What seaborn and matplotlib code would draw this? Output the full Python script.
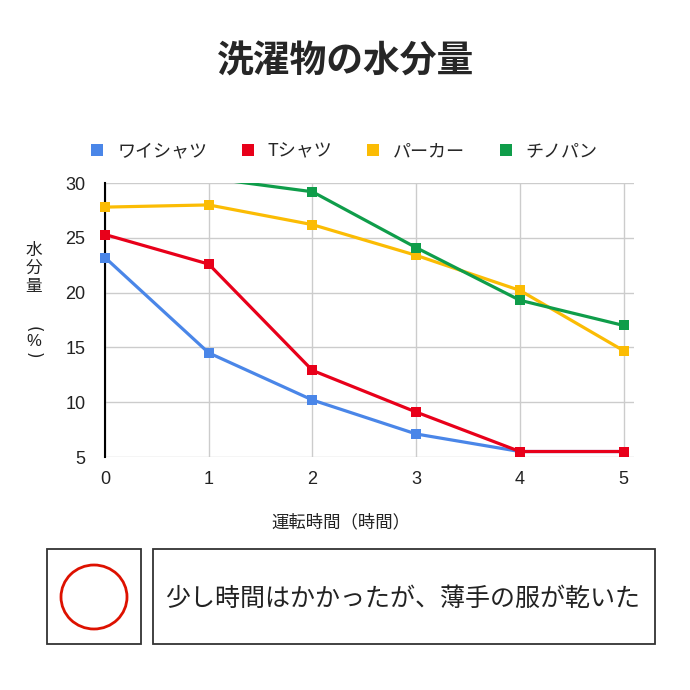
import matplotlib
matplotlib.use("Agg")
import matplotlib.pyplot as plt
from matplotlib.patches import Rectangle, Ellipse
from matplotlib.lines import Line2D
import seaborn as sns
import pandas as pd

# ---- data ----
hours = [0, 1, 2, 3, 4, 5]
series_names = ["ワイシャツ", "Tシャツ", "パーカー", "チノパン"]
y_shirt = [23.2, 14.5, 10.2, 7.1, 5.5, 5.5]
t_shirt = [25.3, 22.6, 12.9, 9.1, 5.5, 5.5]
hoodie = [27.8, 28.0, 26.2, 23.4, 20.2, 14.7]
chinos = [31.0, 30.45, 29.2, 24.1, 19.3, 17.0]
y_ticks = [5, 10, 15, 20, 25, 30]
colors = ["#4A86E8", "#E8001A", "#FBBC04", "#0F9D4A"]

title = "洗濯物の水分量"
x_label = "運転時間（時間）"
y_label_chars = ["水", "分", "量"]
verdict = "少し時間はかかったが、薄手の服が乾いた"

rows = []
for name, vals in zip(series_names, [y_shirt, t_shirt, hoodie, chinos]):
    for h, v in zip(hours, vals):
        rows.append({"時間": h, "水分量": v, "種類": name})
df = pd.DataFrame(rows)

sns.set_style("white")
plt.rcParams["font.family"] = ["Noto Sans CJK JP", "DejaVu Sans"]

W = H = 690
fig = plt.figure(figsize=(6.9, 6.9), dpi=100)

def fx(px):
    return px / W

def fy(py):
    return 1 - py / H

ax = fig.add_axes([fx(105), fy(457), fx(634) - fx(105), fy(183) - fy(457)])
sns.lineplot(data=df, x="時間", y="水分量", hue="種類", hue_order=series_names,
             palette=colors, marker="s", markersize=7, markeredgewidth=0,
             linewidth=2.3, ax=ax, legend=False)

clip_rect = Rectangle((-0.05, -0.05), 1.1, 1.05, transform=ax.transAxes,
                      facecolor="none", edgecolor="none")
ax.add_patch(clip_rect)
for ln in ax.lines:
    ln.set_clip_path(clip_rect)
    ln.set_zorder(4)

ax.set_xlim(0, 5.1)
ax.set_ylim(5, 30)
ax.set_xticks(hours)
ax.set_yticks(y_ticks)
ax.set_xticklabels([str(h) for h in hours], fontsize=13, family=["Liberation Sans", "DejaVu Sans"])
ax.set_yticklabels([str(t) for t in y_ticks], fontsize=13, family=["Liberation Sans", "DejaVu Sans"])
ax.grid(True, color="#cccccc", linewidth=1)
ax.set_axisbelow(True)
for s in ["top", "right", "bottom"]:
    ax.spines[s].set_visible(False)
ax.spines["left"].set_color("black")
ax.spines["left"].set_linewidth(1.5)
ax.spines["left"].set_zorder(3)
ax.tick_params(axis="y", length=8, color="#cccccc", width=1, pad=6, labelcolor="#222222")
ax.tick_params(axis="x", length=0, pad=10, labelcolor="#222222")
ax.set_xlabel("")
ax.set_ylabel("")

# title
fig.text(fx(346), fy(62), title, ha="center", va="center", fontsize=26.5, fontweight="bold")

# legend
handles = [Line2D([0], [0], marker="s", linestyle="none", markersize=9,
                  markerfacecolor=c, markeredgewidth=0) for c in colors]
fig.legend(handles, series_names, loc="center", bbox_to_anchor=(fx(343), fy(151)),
           ncol=4, frameon=False, fontsize=13, handletextpad=0.6, columnspacing=1.75,
           handlelength=1.0)

# y label (stacked)
for ch, yy in zip(y_label_chars, [250, 268, 286]):
    fig.text(fx(34), fy(yy), ch, ha="center", va="center", fontsize=12, color="#222222")
fig.text(fx(33), fy(329), "(", ha="center", va="center", fontsize=12, rotation=-90,
         color="#222222", family=["DejaVu Sans"])
fig.text(fx(34), fy(342), "%", ha="center", va="center", fontsize=12, color="#222222",
         family=["Liberation Sans", "DejaVu Sans"])
fig.text(fx(33), fy(355), ")", ha="center", va="center", fontsize=12, rotation=-90,
         color="#222222", family=["DejaVu Sans"])

# x label
fig.text(fx(341), fy(522), x_label, ha="center", va="center", fontsize=12.5, color="#222222")

# bottom boxes
fig.patches.append(Rectangle((fx(47), fy(644)), fx(141) - fx(47), fy(549) - fy(644),
                             transform=fig.transFigure, fill=False, edgecolor="#333333", linewidth=1.3))
fig.patches.append(Rectangle((fx(153), fy(644)), fx(655) - fx(153), fy(549) - fy(644),
                             transform=fig.transFigure, fill=False, edgecolor="#333333", linewidth=1.3))
fig.patches.append(Ellipse((fx(94), fy(597)), 2 * 33 / W, 2 * 32 / H,
                           transform=fig.transFigure, fill=False, edgecolor="#DD1100", linewidth=2))
fig.text(fx(403), fy(599), verdict, ha="center", va="center", fontsize=18, color="#222222")

fig.savefig("out.png", dpi=100)
